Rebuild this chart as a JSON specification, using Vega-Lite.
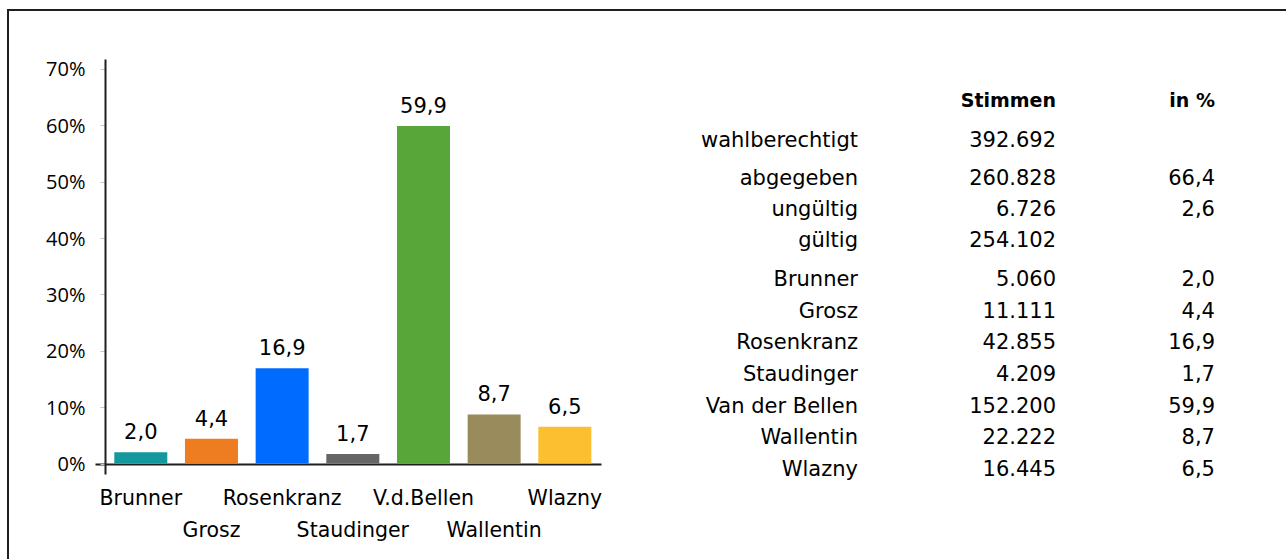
{
  "$schema": "https://vega.github.io/schema/vega-lite/v6.json",
  "width": 1278,
  "height": 549,
  "autosize": {"type": "none"},
  "padding": {"left": 8, "top": 10, "right": 0, "bottom": 0},
  "background": "white",
  "config": {
    "locale": {"number": {"decimal": ",", "thousands": ".", "grouping": [3], "currency": ["", " €"]}},
    "view": {"stroke": "#1f1f1f", "strokeWidth": 2, "strokeDash": [1278, 1827, 549, 0], "strokeCap": "square"},
    "text": {"font": "DejaVu Sans", "fontSize": 21, "fill": "#000000"}
  },
  "datasets": {
    "kandidaten": [
      {"name": "Brunner", "kurz": "Brunner", "stimmen": 5060, "prozent": 2.0},
      {"name": "Grosz", "kurz": "Grosz", "stimmen": 11111, "prozent": 4.4},
      {"name": "Rosenkranz", "kurz": "Rosenkranz", "stimmen": 42855, "prozent": 16.9},
      {"name": "Staudinger", "kurz": "Staudinger", "stimmen": 4209, "prozent": 1.7},
      {"name": "Van der Bellen", "kurz": "V.d.Bellen", "stimmen": 152200, "prozent": 59.9},
      {"name": "Wallentin", "kurz": "Wallentin", "stimmen": 22222, "prozent": 8.7},
      {"name": "Wlazny", "kurz": "Wlazny", "stimmen": 16445, "prozent": 6.5}
    ],
    "wahl": [
      {"name": "wahlberechtigt", "stimmen": 392692, "prozent": null},
      {"name": "abgegeben", "stimmen": 260828, "prozent": 66.4},
      {"name": "ungültig", "stimmen": 6726, "prozent": 2.6},
      {"name": "gültig", "stimmen": 254102, "prozent": null}
    ],
    "kopf": [
      {"zeile": "Kopf", "spalte": "Stimmen"},
      {"zeile": "Kopf", "spalte": "in %"}
    ]
  },
  "layer": [
    {
      "data": {"name": "kandidaten"},
      "encoding": {
        "x": {
          "field": "kurz", "type": "nominal", "sort": null,
          "scale": {"range": [87, 593], "paddingInner": 0.25, "paddingOuter": 0.205, "align": 0.666},
          "axis": {
            "orient": "bottom", "offset": -95, "title": null, "grid": false,
            "ticks": false, "tickSize": 0,
            "domainColor": "#1f1f1f", "domainWidth": 2,
            "labelFont": "DejaVu Sans", "labelFontSize": 20.5, "labelColor": "#000000",
            "labelPadding": 24, "labelAngle": 0, "labelOverlap": false, "labelLineHeight": 32,
            "labelBaseline": "top",
            "labelExpr": "indexof(['Grosz','Staudinger','Wallentin'], datum.label) >= 0 ? ['', datum.label] : datum.label"
          }
        },
        "y": {
          "field": "prozent", "type": "quantitative",
          "scale": {"domain": [-1.863, 71.774], "range": [464, 49], "nice": false},
          "axis": {
            "orient": "left", "offset": -97, "title": null, "grid": false,
            "values": [0, 10, 20, 30, 40, 50, 60, 70],
            "labelExpr": "datum.value + '%'",
            "domainColor": "#1f1f1f", "domainWidth": 2,
            "tickColor": "#c8c8c8", "tickSize": 5, "tickWidth": 1,
            "labelFont": "Open Sans", "labelFontSize": 20, "labelColor": "#000000",
            "labelPadding": 15, "labelOffset": 1,
            "encode": {"ticks": {"update": {"x": {"value": 5}}}}
          }
        }
      },
      "layer": [
        {
          "mark": {"type": "bar"},
          "encoding": {
            "color": {
              "field": "kurz", "type": "nominal", "sort": null, "legend": null,
              "scale": {
                "domain": ["Brunner", "Grosz", "Rosenkranz", "Staudinger", "V.d.Bellen", "Wallentin", "Wlazny"],
                "range": ["#13999d", "#ee7d22", "#006cff", "#666666", "#58a63a", "#998b5b", "#fbbf30"]
              }
            }
          }
        },
        {
          "mark": {"type": "text", "baseline": "middle", "dy": -19, "font": "DejaVu Sans", "fontSize": 21},
          "encoding": {"text": {"field": "prozent", "type": "quantitative", "format": ".1f"}}
        }
      ]
    },
    {
      "layer": [
        {
          "encoding": {
            "y": {"type": "nominal", "scale": {"type": "point", "domain": ["Kopf", "wahlberechtigt"], "range": [91, 131], "padding": 0}, "axis": null}
          },
          "layer": [
            {
              "data": {"name": "kopf"},
              "transform": [{"filter": "datum.spalte === 'Stimmen'"}],
              "mark": {"type": "text", "align": "right", "baseline": "middle", "fontWeight": "bold", "fontSize": 19},
              "encoding": {
                "x": {"field": "spalte", "type": "nominal", "bandPosition": 1, "scale": {"type": "band", "domain": ["Name", "Stimmen", "in %"], "range": [652, 1246], "paddingInner": 0, "paddingOuter": 0}, "axis": null},
                "y": {"field": "zeile", "type": "nominal"},
                "text": {"field": "spalte", "type": "nominal"}
              }
            },
            {
              "data": {"name": "kopf"},
              "transform": [{"filter": "datum.spalte === 'in %'"}],
              "mark": {"type": "text", "align": "right", "baseline": "middle", "fontWeight": "bold", "fontSize": 19},
              "encoding": {
                "x": {"field": "spalte", "type": "nominal", "bandPosition": 0.803, "axis": null},
                "y": {"field": "zeile", "type": "nominal"},
                "text": {"field": "spalte", "type": "nominal"}
              }
            },
            {
              "data": {"name": "wahl"},
              "transform": [{"filter": "datum.name === 'wahlberechtigt'"}],
              "mark": {"type": "text", "align": "right", "baseline": "middle"},
              "encoding": {
                "x": {"datum": "Name", "type": "nominal", "bandPosition": 1, "axis": null},
                "y": {"field": "name", "type": "nominal"},
                "text": {"field": "name", "type": "nominal"}
              }
            },
            {
              "data": {"name": "wahl"},
              "transform": [{"filter": "datum.name === 'wahlberechtigt'"}],
              "mark": {"type": "text", "align": "right", "baseline": "middle"},
              "encoding": {
                "x": {"datum": "Stimmen", "type": "nominal", "bandPosition": 1, "axis": null},
                "y": {"field": "name", "type": "nominal"},
                "text": {"field": "stimmen", "type": "quantitative", "format": ",d"}
              }
            }
          ]
        },
        {
          "data": {"name": "wahl"},
          "transform": [{"filter": "datum.name !== 'wahlberechtigt'"}],
          "encoding": {
            "y": {"field": "name", "type": "nominal", "sort": null, "scale": {"type": "point", "domain": ["abgegeben", "ungültig", "gültig"], "range": [169, 231], "padding": 0}, "axis": null}
          },
          "layer": [
            {
              "mark": {"type": "text", "align": "right", "baseline": "middle"},
              "encoding": {
                "x": {"datum": "Name", "type": "nominal", "bandPosition": 1, "axis": null},
                "text": {"field": "name", "type": "nominal"}
              }
            },
            {
              "mark": {"type": "text", "align": "right", "baseline": "middle"},
              "encoding": {
                "x": {"datum": "Stimmen", "type": "nominal", "bandPosition": 1, "axis": null},
                "text": {"field": "stimmen", "type": "quantitative", "format": ",d"}
              }
            },
            {
              "transform": [{"filter": "isValid(datum.prozent)"}],
              "mark": {"type": "text", "align": "right", "baseline": "middle"},
              "encoding": {
                "x": {"datum": "in %", "type": "nominal", "bandPosition": 0.803, "axis": null},
                "text": {"field": "prozent", "type": "quantitative", "format": ".1f"}
              }
            }
          ]
        },
        {
          "data": {"name": "kandidaten"},
          "encoding": {
            "y": {"field": "name", "type": "nominal", "sort": null, "scale": {"type": "point", "domain": ["Brunner", "Grosz", "Rosenkranz", "Staudinger", "Van der Bellen", "Wallentin", "Wlazny"], "range": [270, 460], "padding": 0}, "axis": null}
          },
          "layer": [
            {
              "mark": {"type": "text", "align": "right", "baseline": "middle"},
              "encoding": {
                "x": {"datum": "Name", "type": "nominal", "bandPosition": 1, "axis": null},
                "text": {"field": "name", "type": "nominal"}
              }
            },
            {
              "mark": {"type": "text", "align": "right", "baseline": "middle"},
              "encoding": {
                "x": {"datum": "Stimmen", "type": "nominal", "bandPosition": 1, "axis": null},
                "text": {"field": "stimmen", "type": "quantitative", "format": ",d"}
              }
            },
            {
              "mark": {"type": "text", "align": "right", "baseline": "middle"},
              "encoding": {
                "x": {"datum": "in %", "type": "nominal", "bandPosition": 0.803, "axis": null},
                "text": {"field": "prozent", "type": "quantitative", "format": ".1f"}
              }
            }
          ]
        }
      ],
      "resolve": {"scale": {"y": "independent"}}
    }
  ],
  "resolve": {"scale": {"x": "independent", "y": "independent"}, "axis": {"x": "independent", "y": "independent"}}
}
